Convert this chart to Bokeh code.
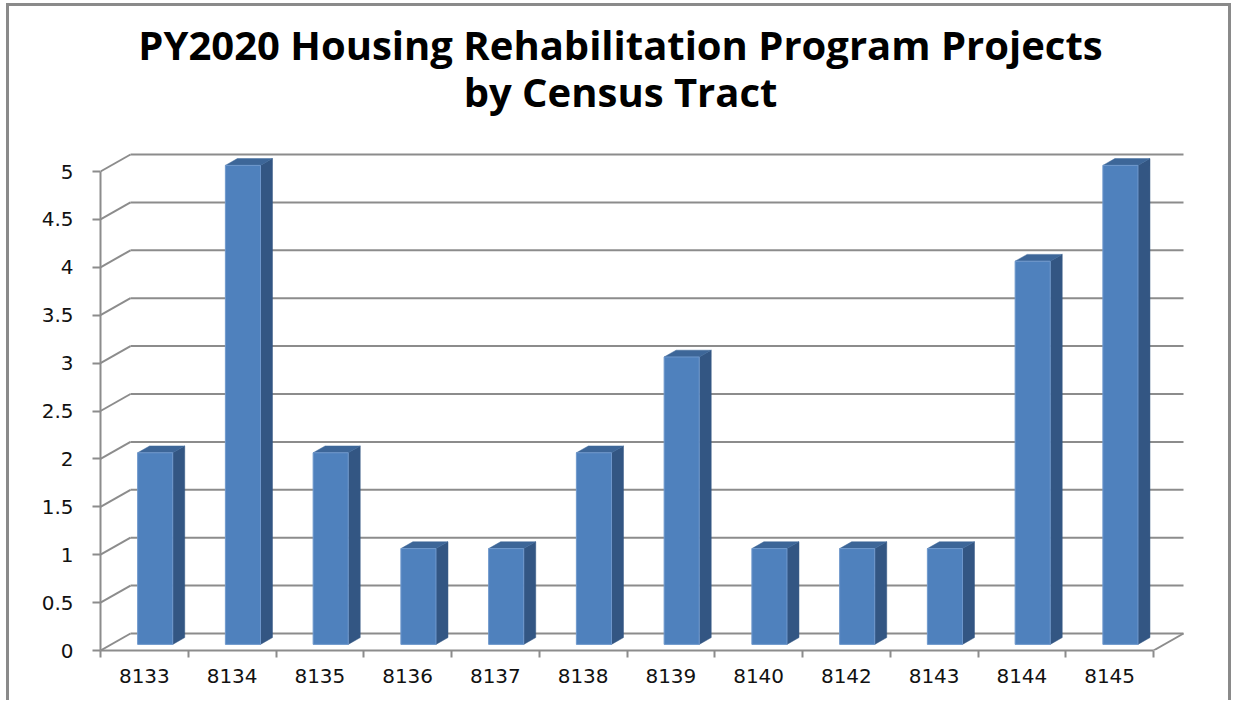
from bokeh.plotting import figure
from bokeh.models import Range1d, FixedTicker, NumeralTickFormatter, CustomJSTickFormatter, Label
from bokeh.embed import file_html
from bokeh.resources import INLINE

# ---- data ----
tracts = ["8133", "8134", "8135", "8136", "8137", "8138", "8139", "8140", "8142", "8143", "8144", "8145"]
projects = [2, 5, 2, 1, 1, 2, 3, 1, 1, 1, 4, 5]
y_ticks = [0, 0.5, 1, 1.5, 2, 2.5, 3, 3.5, 4, 4.5, 5]
title_line1 = "PY2020 Housing Rehabilitation Program Projects"
title_line2 = "by Census Tract"

# ---- geometry (pixels) ----
PX_X = 87.75      # pixels per category
PX_Y = 95.8       # pixels per unit of value
DEPTH_X, DEPTH_Y = 30, 17   # depth vector of the back wall in pixels
FRAME_W, FRAME_H = 1095, 644
n = len(tracts)
dx = DEPTH_X / PX_X
dy = DEPTH_Y / PX_Y
BAR_W = 0.4
F_FRONT = 0.36
F_DEPTH = 0.4

GRID = "#8c8c8c"
FRONT = "#4f81bd"
SIDE = "#335683"
TOP = "#3d6698"

p = figure(frame_width=FRAME_W, frame_height=FRAME_H,
           x_range=Range1d(0, FRAME_W / PX_X), y_range=Range1d(0, FRAME_H / PX_Y),
           output_backend="svg", toolbar_location=None,
           min_border_left=91, min_border_right=33, min_border_bottom=50, min_border_top=0)
p.styles = {"margin-left": "6px", "margin-top": "3px",
            "border-top": "3px solid #8a8a8a", "border-left": "3px solid #8a8a8a",
            "border-right": "3px solid #8a8a8a"}
p.outline_line_color = None
p.xgrid.visible = False
p.ygrid.visible = False

# back wall grid lines
p.segment(x0=[dx] * len(y_ticks), y0=[v + dy for v in y_ticks],
          x1=[n + dx] * len(y_ticks), y1=[v + dy for v in y_ticks],
          line_color=GRID, line_width=2)
# side wall diagonals
p.segment(x0=[0] * len(y_ticks), y0=y_ticks,
          x1=[dx] * len(y_ticks), y1=[v + dy for v in y_ticks],
          line_color=GRID, line_width=2)
# floor right edge
p.segment(x0=[n], y0=[0], x1=[n + dx], y1=[dy], line_color=GRID, line_width=2)

# bars
fx0, fx1, fy0, fy1 = [], [], [], []
side_xs, side_ys, top_xs, top_ys = [], [], [], []
ox, oy = F_FRONT * dx, F_FRONT * dy
ddx, ddy = F_DEPTH * dx, F_DEPTH * dy
for k, v in enumerate(projects):
    x0 = k + 0.5 - BAR_W / 2 + ox
    x1 = x0 + BAR_W
    y0 = oy
    y1 = v + oy
    fx0.append(x0); fx1.append(x1); fy0.append(y0); fy1.append(y1)
    side_xs.append([x1, x1 + ddx, x1 + ddx, x1])
    side_ys.append([y0, y0 + ddy, y1 + ddy, y1])
    top_xs.append([x0, x1, x1 + ddx, x0 + ddx])
    top_ys.append([y1, y1, y1 + ddy, y1 + ddy])

p.patches(side_xs, side_ys, fill_color=SIDE, line_color=SIDE, line_width=0.5)
p.patches(top_xs, top_ys, fill_color=TOP, line_color=TOP, line_width=0.5)
p.quad(left=fx0, right=fx1, bottom=fy0, top=fy1, fill_color=FRONT,
       line_color="#6f98cc", line_width=1)

# axes
ya = p.yaxis[0]
ya.ticker = FixedTicker(ticks=y_ticks, minor_ticks=[])
ya.formatter = NumeralTickFormatter(format="0.[0]")
ya.bounds = (0, max(y_ticks))
ya.axis_line_color = GRID
ya.axis_line_width = 2
ya.major_tick_line_color = GRID
ya.major_tick_line_width = 2
ya.major_tick_out = 8
ya.major_tick_in = 0
ya.major_label_standoff = 19
ya.major_label_text_font = "DejaVu Sans"
ya.major_label_text_font_size = "20px"
ya.major_label_text_color = "#111111"

xa = p.xaxis[0]
xa.ticker = FixedTicker(ticks=[k + 0.5 for k in range(n)], minor_ticks=list(range(n + 1)))
xa.formatter = CustomJSTickFormatter(args=dict(labels=tracts),
                                     code="const i = Math.floor(tick); return (i >= 0 && i < labels.length) ? labels[i] : '';")
xa.bounds = (0, n)
xa.axis_line_color = GRID
xa.axis_line_width = 2
xa.major_tick_out = 0
xa.major_tick_in = 0
xa.minor_tick_out = 7
xa.minor_tick_in = 0
xa.minor_tick_line_color = GRID
xa.minor_tick_line_width = 2
xa.major_label_standoff = 11
xa.major_label_text_font = "DejaVu Sans"
xa.major_label_text_font_size = "20px"
xa.major_label_text_color = "#111111"

# title: two centred lines
for txt, base in ((title_line1, 606), (title_line2, 559)):
    p.add_layout(Label(x=520, y=base, x_units="screen", y_units="screen", text=txt,
                       text_align="center", text_baseline="alphabetic",
                       text_font="Open Sans", text_font_size="40px",
                       text_font_style="bold", text_color="black"))

open("out.html", "w").write(file_html(p, INLINE))
